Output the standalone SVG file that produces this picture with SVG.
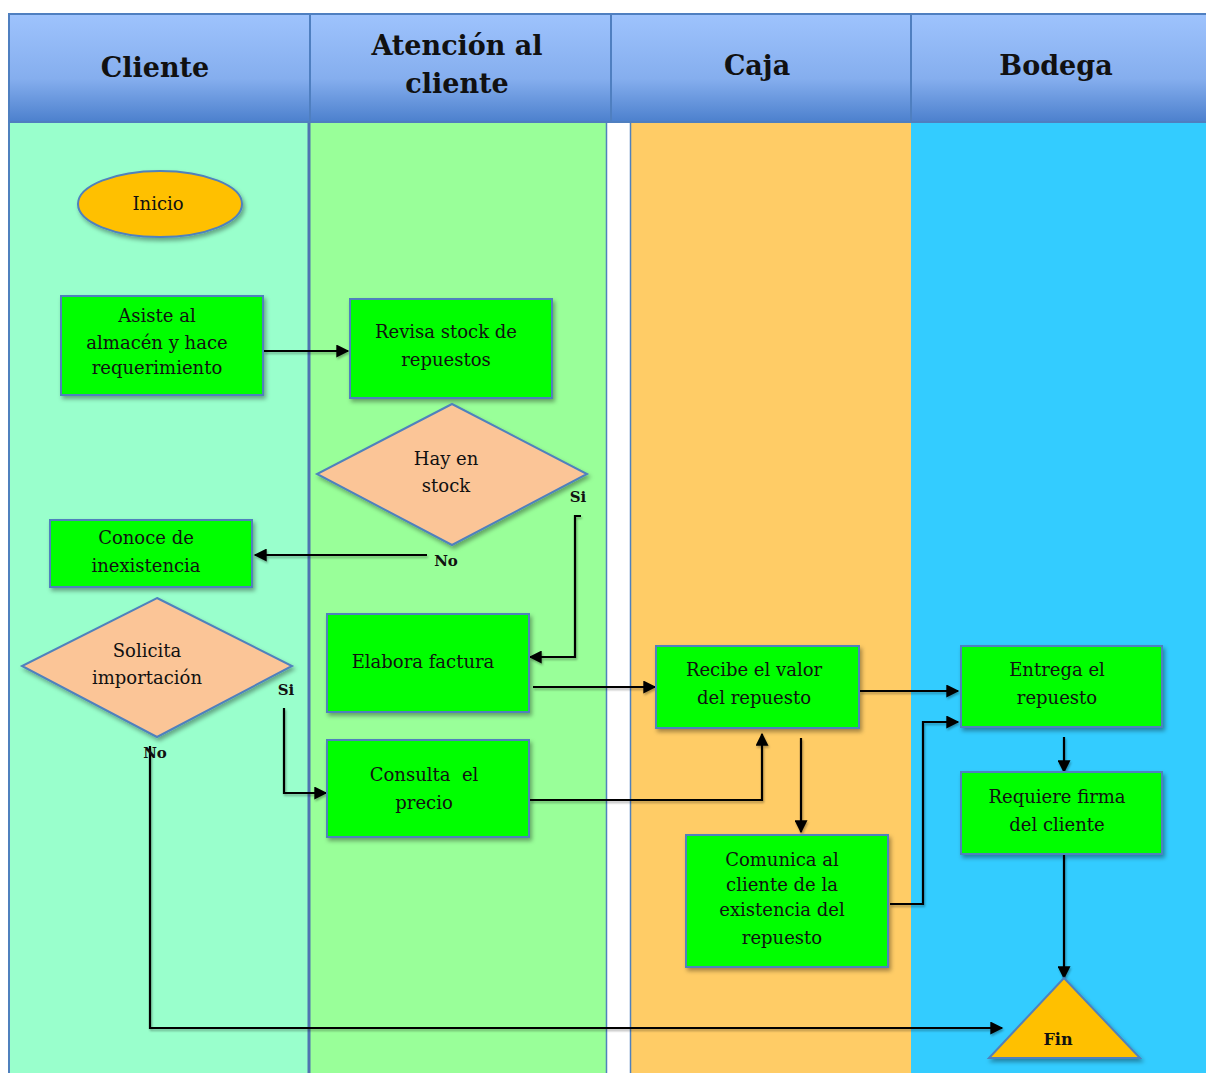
<svg xmlns="http://www.w3.org/2000/svg" width="1206" height="1073" viewBox="0 0 1206 1073">
<defs>
<linearGradient id="hdr" x1="0" y1="0" x2="0" y2="1">
<stop offset="0" stop-color="#9EC3FD"/>
<stop offset="0.6" stop-color="#85AEEE"/>
<stop offset="1" stop-color="#4C80CD"/>
</linearGradient>
<filter id="sh" x="-10%" y="-10%" width="130%" height="130%">
<feDropShadow dx="2" dy="3" stdDeviation="2" flood-color="#000" flood-opacity="0.35"/>
</filter>
<filter id="lsh" filterUnits="userSpaceOnUse" x="0" y="0" width="1206" height="1073">
<feDropShadow dx="1" dy="2" stdDeviation="1.2" flood-color="#000" flood-opacity="0.3"/>
</filter>
<marker id="ah" viewBox="0 0 10 10" refX="9" refY="5" markerWidth="14" markerHeight="13" markerUnits="userSpaceOnUse" orient="auto">
<path d="M0,0 L10,5 L0,10 z" fill="#000"/>
</marker>
</defs>
<style>
.hd{fill:url(#hdr);stroke:#4F7FC0;stroke-width:2}
.ht{font-family:"DejaVu Serif",serif;font-weight:bold;font-size:27px;fill:#111;text-anchor:middle}
.box{fill:#00FF00;stroke:#4F81BD;stroke-width:2;filter:url(#sh)}
.dia{fill:#FBC597;stroke:#4F81BD;stroke-width:2;filter:url(#sh)}
.term{fill:#FFC000;stroke:#4F81BD;stroke-width:2;filter:url(#sh)}
.t{font-family:"DejaVu Serif",serif;font-size:18px;fill:#111;text-anchor:middle}
.lb{font-family:"DejaVu Serif",serif;font-weight:bold;font-size:15px;fill:#111;text-anchor:middle}
.ca{fill:none;stroke:#000;stroke-width:2.2;marker-end:url(#ah)}
</style>
<rect x="0" y="0" width="1206" height="1073" fill="#fff"/>
<g id="lanes">
<rect x="9" y="122" width="300" height="951" fill="#99FFCC"/>
<rect x="309" y="122" width="298" height="951" fill="#99FF99"/>
<rect x="607" y="122" width="24" height="951" fill="#fff"/>
<rect x="631" y="122" width="280" height="951" fill="#FFCC66"/>
<rect x="911" y="122" width="295" height="951" fill="#33CCFF"/>
<line x1="9" y1="122" x2="9" y2="1073" stroke="#4F81BD" stroke-width="2"/>
<line x1="309" y1="122" x2="309" y2="1073" stroke="#4F74B0" stroke-width="3"/>
<line x1="606.5" y1="122" x2="606.5" y2="1073" stroke="#4F81BD" stroke-width="1.5"/>
<line x1="630.5" y1="122" x2="630.5" y2="1073" stroke="#4F81BD" stroke-width="1.5"/>
</g>
<g id="header">
<rect class="hd" x="9" y="14" width="301" height="108"/>
<rect class="hd" x="310" y="14" width="301" height="108"/>
<rect class="hd" x="611" y="14" width="300" height="108"/>
<rect class="hd" x="911" y="14" width="300" height="108"/>
<text class="ht" x="155" y="77">Cliente</text>
<text class="ht" x="457" y="55">Atención al</text>
<text class="ht" x="457" y="93">cliente</text>
<text class="ht" x="757" y="75">Caja</text>
<text class="ht" x="1056" y="75">Bodega</text>
</g>
<g id="connectors" filter="url(#lsh)">
<path class="ca" d="M264 351 H348"/>
<path class="ca" d="M427 555 H255"/>
<path class="ca" d="M581 516 H575 V657 H530"/>
<path class="ca" d="M284 708 V793 H326"/>
<path class="ca" d="M533 687 H655"/>
<path class="ca" d="M530 800 H762 V734"/>
<path class="ca" d="M860 691 H958"/>
<path class="ca" d="M801 738 V832"/>
<path class="ca" d="M890 904 H923 V722 H958"/>
<path class="ca" d="M1064 737 V772"/>
<path class="ca" d="M1064 855 V978"/>
<path class="ca" d="M150 746 V1028 H1002"/>
</g>
<g id="labels">
<text class="lb" x="578" y="502">Si</text>
<text class="lb" x="446" y="566">No</text>
<text class="lb" x="286" y="695">Si</text>
<text class="lb" x="155" y="758">No</text>
</g>
<g id="inicio">
<ellipse class="term" cx="160" cy="204" rx="82" ry="33"/>
<text class="t" x="158" y="210">Inicio</text>
</g>
<g id="asiste">
<rect class="box" x="61" y="296" width="202" height="99"/>
<text class="t" x="157" y="322">Asiste al</text>
<text class="t" x="157" y="349">almacén y hace</text>
<text class="t" x="157" y="374">requerimiento</text>
</g>
<g id="revisa">
<rect class="box" x="350" y="299" width="202" height="99"/>
<text class="t" x="446" y="338">Revisa stock de</text>
<text class="t" x="446" y="366">repuestos</text>
</g>
<g id="hay-stock">
<polygon class="dia" points="452,404 587,474 452,545 317,474"/>
<text class="t" x="446" y="465">Hay en</text>
<text class="t" x="446" y="492">stock</text>
</g>
<g id="conoce">
<rect class="box" x="50" y="520" width="202" height="67"/>
<text class="t" x="146" y="544">Conoce de</text>
<text class="t" x="146" y="572">inexistencia</text>
</g>
<g id="solicita">
<polygon class="dia" points="157,598 292,666 157,737 22,666"/>
<text class="t" x="147" y="657">Solicita</text>
<text class="t" x="147" y="684">importación</text>
</g>
<g id="elabora">
<rect class="box" x="327" y="614" width="202" height="98"/>
<text class="t" x="423" y="668">Elabora factura</text>
</g>
<g id="consulta">
<rect class="box" x="327" y="740" width="202" height="97"/>
<text class="t" x="424" y="781" xml:space="preserve">Consulta  el</text>
<text class="t" x="424" y="809">precio</text>
</g>
<g id="recibe">
<rect class="box" x="656" y="646" width="203" height="82"/>
<text class="t" x="754" y="676">Recibe el valor</text>
<text class="t" x="754" y="704">del repuesto</text>
</g>
<g id="comunica">
<rect class="box" x="686" y="835" width="202" height="132"/>
<text class="t" x="782" y="866">Comunica al</text>
<text class="t" x="782" y="891">cliente de la</text>
<text class="t" x="782" y="916">existencia del</text>
<text class="t" x="782" y="944">repuesto</text>
</g>
<g id="entrega">
<rect class="box" x="961" y="646" width="201" height="81"/>
<text class="t" x="1057" y="676">Entrega el</text>
<text class="t" x="1057" y="704">repuesto</text>
</g>
<g id="requiere">
<rect class="box" x="961" y="772" width="201" height="82"/>
<text class="t" x="1057" y="803">Requiere firma</text>
<text class="t" x="1057" y="831">del cliente</text>
</g>
<g id="fin">
<polygon class="term" points="1064,978 1140,1058 989,1058"/>
<text class="lb" x="1058" y="1045" style="font-size:16px">Fin</text>
</g>
</svg>
